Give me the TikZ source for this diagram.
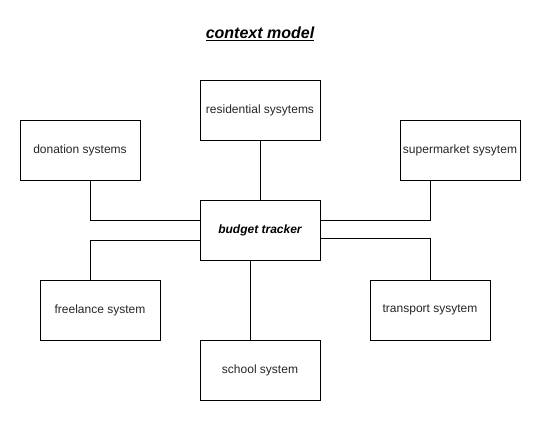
\documentclass[tikz,border=0pt]{standalone}
\usepackage{fontspec}
\setmainfont{Liberation Sans}
\begin{document}
\begin{tikzpicture}[x=1pt,y=-1pt,
  sysbox/.style={draw=black,line width=1pt,minimum width=120pt,minimum height=60pt,inner sep=0pt,font=\fontsize{12}{14}\selectfont,text=black!85},
  link/.style={draw=black,line width=1pt}]
\useasboundingbox (0,0) rectangle (541,421);
\fill[white] (0,0) rectangle (541,421);
\node[font=\fontsize{16}{19}\selectfont\bfseries\itshape] (title) at (260,34) {\underline{context model}};
\node[sysbox] (res) at (260,110) {residential sysytems};
\node[sysbox] (don) at (80,150) {donation systems};
\node[sysbox] (sup) at (460,150) {supermarket sysytem};
\node[sysbox,text=black] (bud) at (260,230) {\bfseries\itshape budget tracker};
\node[sysbox] (fre) at (100,310) {freelance system};
\node[sysbox] (tra) at (430,310) {transport sysytem};
\node[sysbox] (sch) at (260,370) {school system};
\draw[link] (res.south) -- (bud.north);
\draw[link] (don.south -| 90,0) |- (bud.west |- 0,220);
\draw[link] (sup.south -| 430,0) |- (bud.east |- 0,220);
\draw[link] (bud.west |- 0,240) -| (fre.north -| 90,0);
\draw[link] (bud.east |- 0,238) -| (tra.north);
\draw[link] (bud.south -| 250,0) -- (sch.north -| 250,0);
\end{tikzpicture}
\end{document}
